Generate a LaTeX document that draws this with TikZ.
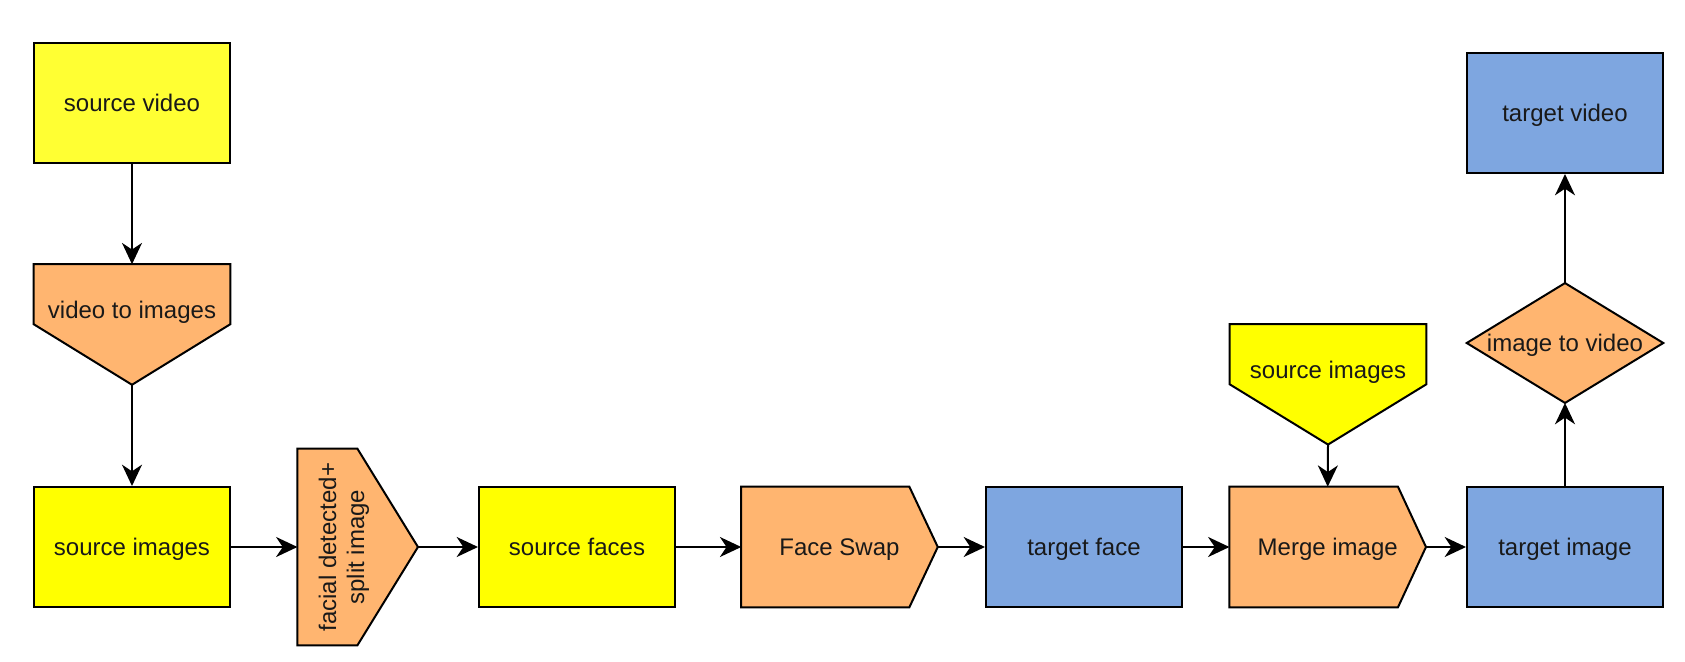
\documentclass[tikz,border=0pt]{standalone}
\usepackage{fontspec}
\setmainfont{Liberation Sans}
\usetikzlibrary{arrows.meta,calc,backgrounds}
\definecolor{ylw}{HTML}{FFFF00}
\definecolor{ylwl}{HTML}{FFFF33}
\definecolor{org}{HTML}{FFB570}
\definecolor{blu}{HTML}{7EA6E0}
\begin{document}
\begin{tikzpicture}[x=0.75pt,y=-0.75pt,
  every node/.style={font=\fontsize{18pt}{21pt}\selectfont, text=black!90},
  bx/.style={rectangle, inner sep=0pt, minimum width=147pt, minimum height=90pt, text height=13pt, text depth=0pt},
  tallbx/.style={rectangle, inner sep=0pt, minimum width=90pt, minimum height=147pt},
  rectbox/.style={bx, draw=black, line width=1.5pt},
  shp/.style={draw=black, line width=1.5pt, line join=miter},
  conn/.style={line width=1.5pt, -{Stealth[length=16pt,width=15pt,inset=5pt]}},
  txt/.style={inner sep=0pt, text height=13pt, text depth=0pt}
]
\useasboundingbox (0,0) rectangle (1685,661);

\node[rectbox, fill=ylwl] (sv) at (132,103) {source video};
\node[bx] (vti) at (132,324.5) {};
\node[txt] (vtit) at (132,310) {video to images};
\node[rectbox, fill=ylw] (si) at (132,547) {source images};
\node[tallbx] (fd) at (357.7,547) {};
\node[rotate=90, align=center, inner sep=0pt] (fdt) at (344,547) {facial detected+\\split image};
\node[rectbox, fill=ylw] (sf) at (577,547) {source faces};
\node[bx] (fs) at (839.5,547) {Face Swap};
\node[rectbox, fill=blu] (tf) at (1084,547) {target face};
\node[bx] (mi) at (1327.7,547) {Merge image};
\node[rectbox, fill=blu] (ti) at (1565,547) {target image};
\node[bx] (si2) at (1328,384.3) {};
\node[txt] (si2t) at (1328,370) {source images};
\node[bx, minimum height=89.5pt] (itv) at (1565,343) {image to video};
\node[rectbox, fill=blu] (tv) at (1565,113) {target video};

\begin{scope}[on background layer]
\draw[shp, fill=org] (vti.north west) -- (vti.north east) -- ($(vti.north east)+(0,60)$) -- (vti.south) -- ($(vti.north west)+(0,60)$) -- cycle;
\draw[shp, fill=org] (fd.north west) -- ($(fd.north west)+(60,0)$) -- (fd.east) -- ($(fd.south west)+(60,0)$) -- (fd.south west) -- cycle;
\draw[shp, fill=org] (fs.north west) -- ($(fs.north east)+(-28.4,0)$) -- (fs.east) -- ($(fs.south east)+(-28.4,0)$) -- (fs.south west) -- cycle;
\draw[shp, fill=org] (mi.north west) -- ($(mi.north east)+(-28,0)$) -- (mi.east) -- ($(mi.south east)+(-28,0)$) -- (mi.south west) -- cycle;
\draw[shp, fill=ylw] (si2.north west) -- (si2.north east) -- ($(si2.north east)+(0,60.3)$) -- (si2.south) -- ($(si2.north west)+(0,60.3)$) -- cycle;
\draw[shp, fill=org] (itv.north) -- (itv.east) -- (itv.south) -- (itv.west) -- cycle;
\end{scope}

\draw[conn] (sv.south) -- (vti.north);
\draw[conn] (vti.south) -- (si.north);
\draw[conn] (si.east) -- (fd.west);
\draw[conn] (fd.east) -- (sf.west);
\draw[conn] (sf.east) -- (fs.west);
\draw[conn] (fs.east) -- (tf.west);
\draw[conn] (tf.east) -- (mi.west);
\draw[conn] (si2.south) -- (mi.north);
\draw[conn] (mi.east) -- (ti.west);
\draw[conn] (ti.north) -- (itv.south);
\draw[conn] (itv.north) -- (tv.south);
\end{tikzpicture}
\end{document}
